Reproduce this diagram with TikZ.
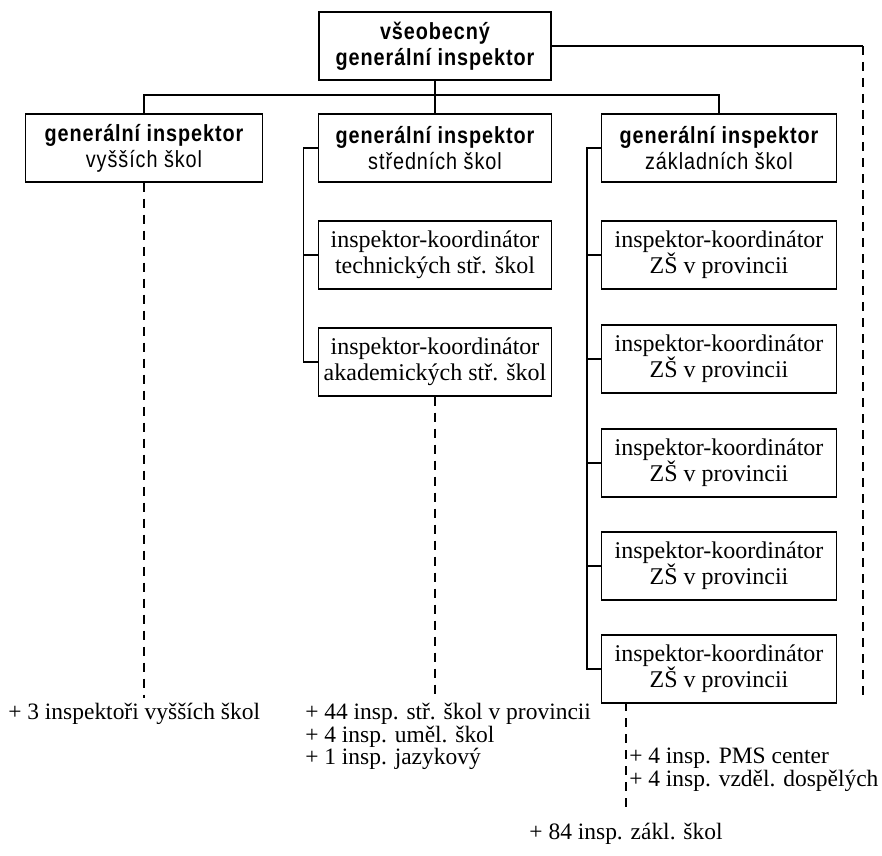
\documentclass[tikz,border=0pt]{standalone}
\usepackage{fontspec}
\setmainfont{Liberation Serif}
\newfontfamily\headfont[FakeStretch=0.85,LetterSpace=4]{Liberation Sans}
\usetikzlibrary{positioning}

\tikzset{
	box/.style={draw, line width=0.9pt, align=center, inner sep=0pt, minimum height=51pt, font=\fontsize{18}{19.5}\selectfont},
	headbox/.style={box, font=\fontsize{17.5}{19.5}\headfont},
	link/.style={line width=0.9pt},
	dashlink/.style={line width=0.8pt, dash pattern=on 7pt off 5pt},
	note/.style={inner sep=0pt, align=left, font=\fontsize{17.6}{17}\selectfont}
}

\begin{document}
\begin{tikzpicture}[x=0.75pt, y=-0.75pt]
	\useasboundingbox (0,0) rectangle (882,856);

	% top level
	\node[headbox, minimum width=174pt, minimum height=51pt] (top) at (435, 46) {\bfseries všeobecný\\\bfseries generální inspektor};

	% second level
	\node[headbox, minimum width=178pt] (hs) at (144, 148) {\bfseries generální inspektor\\vyšších škol};
	\node[headbox, minimum width=175pt] (ss) at (435, 148) {\bfseries generální inspektor\\středních škol};
	\node[headbox, minimum width=176pt] (zs) at (719, 148) {\bfseries generální inspektor\\základních škol};

	% coordinators
	\node[box, minimum width=175pt] (ss1) at (435, 255) {inspektor-koordinátor\\technických stř. škol};
	\node[box, minimum width=175pt] (ss2) at (435, 362) {inspektor-koordinátor\\akademických stř. škol};

	\node[box, minimum width=176pt] (zs1) at (719, 255) {inspektor-koordinátor\\ZŠ v provincii};
	\node[box, minimum width=176pt] (zs2) at (719, 359) {inspektor-koordinátor\\ZŠ v provincii};
	\node[box, minimum width=176pt] (zs3) at (719, 463) {inspektor-koordinátor\\ZŠ v provincii};
	\node[box, minimum width=176pt] (zs4) at (719, 566) {inspektor-koordinátor\\ZŠ v provincii};
	\node[box, minimum width=176pt] (zs5) at (719, 669) {inspektor-koordinátor\\ZŠ v provincii};

	% notes
	\node[note, anchor=north west] (hsn) at (8, 703) {+ 3 inspektoři vyšších škol};
	\node[note, anchor=north west] (ssn) at (305, 703) {+ 44 insp. stř. škol v provincii\\+ 4 insp. uměl. škol\\+ 1 insp. jazykový};
	\node[note, anchor=north west] (gn) at (629, 748) {+ 4 insp. PMS center\\+ 4 insp. vzděl. dospělých};
	\node[note, anchor=north] (zsn) at (626, 823) {+ 84 insp. zákl. škol};

	\coordinate (bar) at (435, 95);
	\coordinate (corner) at (863, 46);
	\coordinate (zsdash) at (626, 702);

	\draw[link] (top.south) -- (bar);
	\draw[link] (hs.north) |- (bar) -| (zs.north);
	\draw[link] (bar) -- (ss.north);
	\draw[link] (top.east) -- (corner);

	\draw[link] (ss.west) -- ++(-14,0) |- (ss2.west);
	\draw[link] (ss1.west) -- ++(-14,0);
	\draw[link] (zs.west) -- ++(-14,0) |- (zs5.west);
	\draw[link] (zs1.west) -- ++(-14,0);
	\draw[link] (zs2.west) -- ++(-14,0);
	\draw[link] (zs3.west) -- ++(-14,0);
	\draw[link] (zs4.west) -- ++(-14,0);

	\draw[dashlink] (hs.south) -- ++(0,515);
	\draw[dashlink] (ss2.south) -- ++(0,300);
	\draw[dashlink, shorten >=8pt] (zsdash) -- (zsn.north);
	\draw[dashlink] (corner) -- ++(0,650);
\end{tikzpicture}
\end{document}
